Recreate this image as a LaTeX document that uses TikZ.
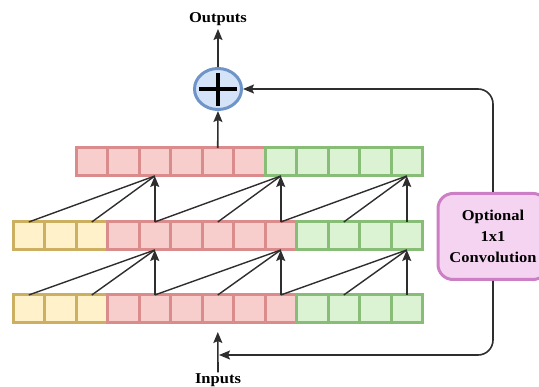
\documentclass[tikz,border=0pt]{standalone}
\usepackage{fontspec}
\newfontfamily\labelfont[FakeStretch=1.1]{Liberation Serif}
\usetikzlibrary{arrows.meta,shapes.geometric}

\definecolor{redfill}{HTML}{F8CECC}
\definecolor{redline}{HTML}{DA8C8C}
\definecolor{greenfill}{HTML}{DCF3D3}
\definecolor{greenline}{HTML}{88BD78}
\definecolor{yellowfill}{HTML}{FFF1CA}
\definecolor{yellowline}{HTML}{CDAF62}
\definecolor{sumfill}{HTML}{D4E3F7}
\definecolor{sumline}{HTML}{6F95C8}
\definecolor{convfill}{HTML}{F5D4F1}
\definecolor{convline}{HTML}{CC7FC4}
\definecolor{wire}{HTML}{2E2E2E}

\tikzset{
  cell/.style={rectangle, minimum width=31.5pt, minimum height=28pt,
    inner sep=0pt, outer sep=0pt, line width=3pt},
  cellr/.style={cell, fill=redfill, draw=redline},
  cellg/.style={cell, fill=greenfill, draw=greenline},
  celly/.style={cell, fill=yellowfill, draw=yellowline},
  tap/.style={draw=wire, line width=1.4pt},
  flow/.style={draw=wire, line width=1.6pt,
    -{Stealth[length=11pt, width=9pt, inset=2pt]}},
  sumnode/.style={ellipse, minimum width=47pt, minimum height=41pt,
    fill=sumfill, draw=sumline, line width=3pt, inner sep=0pt},
  convbox/.style={rectangle, rounded corners=15pt, minimum width=110pt,
    minimum height=86pt, fill=convfill, draw=convline, line width=3pt,
    align=center, font=\labelfont\bfseries\fontsize{15}{21}\selectfont},
  iolabel/.style={font=\labelfont\bfseries\fontsize{15}{17}\selectfont,
    inner sep=1pt}
}

\begin{document}
\begin{tikzpicture}[x=1pt, y=-1pt]
  \useasboundingbox (0,0) rectangle (539,387);

  % three rows of cells: bottom (y=309), middle (y=236), top (y=162)
  \foreach \k in {0,...,12} {
    \pgfmathsetmacro{\cx}{13+31.5*(\k+0.5)}
    \ifnum\k<3
      \def\sty{celly}
    \else\ifnum\k<9
      \def\sty{cellr}
    \else
      \def\sty{cellg}
    \fi\fi
    \node[\sty] (b\k) at (\cx,309) {};
    \node[\sty] (m\k) at (\cx,236) {};
  }
  \foreach \k in {2,...,12} {
    \pgfmathsetmacro{\cx}{13+31.5*(\k+0.5)}
    \ifnum\k<8
      \def\sty{cellr}
    \else
      \def\sty{cellg}
    \fi
    \node[\sty] (t\k) at (\cx,162) {};
  }

  % dilated taps: kernel 3, dilation 2
  \foreach \k in {4,8,12} {
    \pgfmathtruncatemacro{\ka}{\k-4}
    \pgfmathtruncatemacro{\kb}{\k-2}
    \draw[tap] (b\ka.north) -- (m\k.south);
    \draw[tap] (b\kb.north) -- (m\k.south);
    \draw[flow] (b\k.north) -- (m\k.south);
    \draw[tap] (m\ka.north) -- (t\k.south);
    \draw[tap] (m\kb.north) -- (t\k.south);
    \draw[flow] (m\k.north) -- (t\k.south);
  }

  % residual sum
  \node[sumnode] (sum) at (218,89) {};
  \draw[line width=3.8pt, black] (199,89) -- (237,89);
  \draw[line width=3.8pt, black] (218,73) -- (218,106);
  \draw[flow] (t6.north) -- (sum.south);

  % outputs and inputs
  \node[iolabel] (out) at (218,19) {Outputs};
  \draw[flow] (sum.north) -- (218,29);
  \node[iolabel] (in) at (218,380) {Inputs};
  \draw[flow, shorten >=9pt] (in.north) -- (b6.south);
  \coordinate (inj) at (219,355);

  % skip connection through the optional 1x1 convolution
  \node[convbox] (conv) at (493,236.5) {Optional\\1x1\\Convolution};
  \draw[flow, rounded corners=15pt] (conv.north) |- (sum.east);
  \draw[flow, rounded corners=15pt] (conv.south) |- (inj);
\end{tikzpicture}
\end{document}
